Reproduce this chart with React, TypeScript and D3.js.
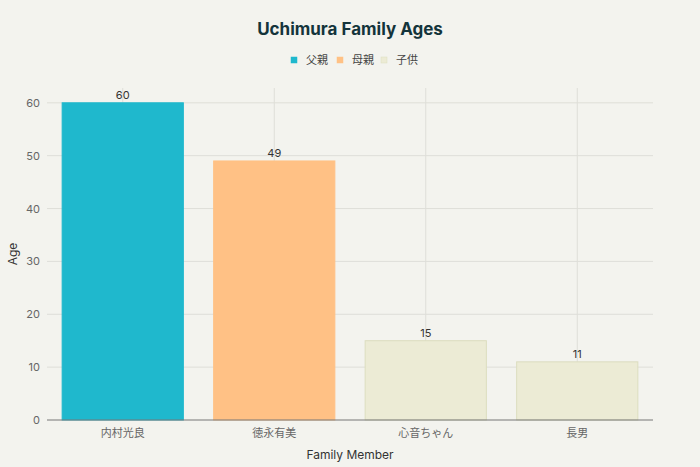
import * as d3 from 'd3';

const members = ['内村光良', '徳永有美', '心音ちゃん', '長男'];
const ages = [60, 49, 15, 11];
const roles = ['父親', '母親', '子供', '子供'];
const legendRoles = ['父親', '母親', '子供'];
const yTicks = [0, 10, 20, 30, 40, 50, 60];

const W = 700;
const H = 467;
const margin = { top: 88, right: 47, bottom: 47, left: 47 };
const font = "Inter, 'Noto Sans CJK JP', sans-serif";

const roleColor = d3.scaleOrdinal<string, string>().domain(legendRoles).range(['#1FB8CD', '#FFC185', '#ECEBD5']);
const roleStroke = d3.scaleOrdinal<string, string>().domain(legendRoles).range(['#1FB8CD', '#FFC185', '#DCDDBF']);

const App = () => {
  const x = d3.scaleBand(members, [margin.left, W - margin.right]).paddingInner(0.2).paddingOuter(0.1);
  const y = d3.scaleLinear([0, 62.8], [H - margin.bottom, margin.top]);
  const legendX = [291, 337, 381];

  return (
    <svg
      width={W}
      height={H}
      style={{ position: 'absolute', left: 0, top: 0, display: 'block', background: '#F3F3EE', fontFamily: font }}
    >
      <rect width={W} height={H} fill="#F3F3EE" />
      <text x={W / 2} y={35} textAnchor="middle" fontSize={17} fontWeight={700} fill="#13343B">
        Uchimura Family Ages
      </text>
      {legendRoles.map((r, i) => (
        <g key={r} transform={`translate(${legendX[i]},57)`}>
          <rect width={6} height={6} fill={roleColor(r)} stroke={roleStroke(r)} strokeWidth={0.5} />
          <text x={15} y={6.5} fontSize={11} fill="#444">
            {r}
          </text>
        </g>
      ))}
      {yTicks.map((t) => (
        <g key={t}>
          {t > 0 && <line x1={margin.left} x2={W - margin.right} y1={y(t)} y2={y(t)} stroke="#DEDED8" strokeWidth={1} />}
          <text x={40} y={y(t) + 4} textAnchor="end" fontSize={11} fill="#666">
            {t}
          </text>
        </g>
      ))}
      {members.map((m) => (
        <line
          key={m}
          x1={x(m)! + x.bandwidth() / 2}
          x2={x(m)! + x.bandwidth() / 2}
          y1={margin.top}
          y2={H - margin.bottom}
          stroke="#DEDED8"
          strokeWidth={1}
        />
      ))}
      {members.map((m, i) => (
        <g key={m}>
          <rect
            x={x(m)}
            y={y(ages[i])}
            width={x.bandwidth()}
            height={y(0) - y(ages[i])}
            fill={roleColor(roles[i])}
            stroke={roleStroke(roles[i])}
            strokeWidth={1}
          />
          <text x={x(m)! + x.bandwidth() / 2} y={y(ages[i]) - 4} textAnchor="middle" fontSize={11} fill="#333">
            {ages[i]}
          </text>
          <text x={x(m)! + x.bandwidth() / 2} y={H - margin.bottom + 17} textAnchor="middle" fontSize={11} fill="#666">
            {m}
          </text>
        </g>
      ))}
      <line x1={margin.left} x2={W - margin.right} y1={y(0)} y2={y(0)} stroke="#777" strokeWidth={1} />
      <text x={W / 2} y={459} textAnchor="middle" fontSize={12} fill="#333">
        Family Member
      </text>
      <text transform={`translate(17,${(margin.top + H - margin.bottom) / 2}) rotate(-90)`} textAnchor="middle" fontSize={12} fill="#333">
        Age
      </text>
    </svg>
  );
};

export default App;
